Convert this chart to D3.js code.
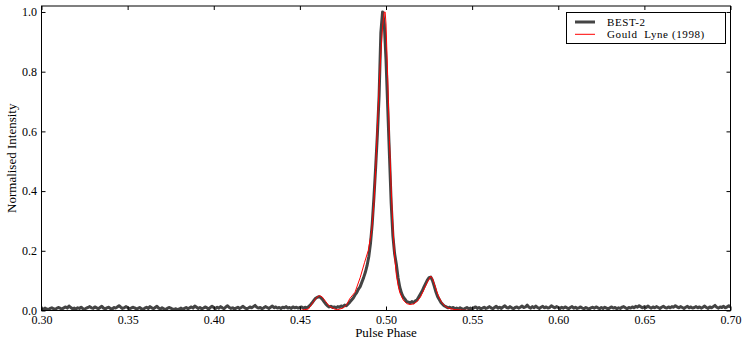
<!DOCTYPE html>
<html>
<head>
<meta charset="utf-8">
<script src="https://cdn.jsdelivr.net/npm/d3@7"></script>
<style>
  body { margin: 0; background: #fff; }
  svg text { font-family: "Liberation Serif", "DejaVu Serif", serif; fill: #000; }
</style>
</head>
<body>
<svg id="chart" width="748" height="343"></svg>
<script>
"use strict";

// BEST-2 profile, one value per 0.001 of phase, starting at 0.300
const best2Start = 0.300;
const best2Step = 0.001;
const best2 = [
  // 0.300 - 0.449 baseline
  0.006,0.004,0.008,0.005,0.003,0.007,0.009,0.006,0.004,0.008,0.010,0.007,0.005,0.009,0.012,0.008,0.015,0.010,0.006,0.008,
  0.005,0.009,0.007,0.011,0.006,0.004,0.008,0.010,0.013,0.009,0.007,0.012,0.009,0.006,0.010,0.014,0.008,0.005,0.009,0.011,
  0.007,0.004,0.010,0.008,0.012,0.016,0.011,0.007,0.009,0.013,0.010,0.006,0.008,0.011,0.009,0.005,0.007,0.010,0.006,0.004,
  0.008,0.011,0.007,0.013,0.009,0.006,0.010,0.014,0.008,0.005,0.009,0.006,0.003,0.007,0.010,0.008,0.005,0.004,0.006,0.003,
  0.005,0.008,0.004,0.007,0.010,0.006,0.009,0.012,0.008,0.015,0.011,0.007,0.010,0.006,0.008,0.012,0.009,0.005,0.010,0.014,
  0.010,0.007,0.011,0.008,0.013,0.009,0.006,0.012,0.016,0.010,0.007,0.009,0.005,0.008,0.011,0.007,0.010,0.014,0.009,0.006,
  0.008,0.012,0.009,0.013,0.017,0.011,0.008,0.010,0.006,0.009,0.013,0.010,0.007,0.011,0.015,0.009,0.012,0.008,0.010,0.007,
  0.011,0.009,0.013,0.008,0.010,0.007,0.012,0.009,0.011,0.008,
  // 0.450 - 0.540 pulse
  0.010,0.012,0.008,0.011,0.009,0.013,0.018,0.025,0.033,0.040,
  0.044,0.046,0.044,0.038,0.030,0.022,0.016,0.012,0.014,0.010,
  0.012,0.009,0.013,0.011,0.015,0.013,0.018,0.016,0.022,0.028,
  0.035,0.042,0.052,0.060,0.072,0.080,0.095,0.110,0.128,0.150,
  0.180,0.225,0.290,0.380,0.480,0.590,0.720,0.930,1.000,0.960,
  0.840,0.680,0.520,0.360,0.250,0.190,0.155,0.110,0.078,0.058,
  0.045,0.038,0.030,0.028,0.025,0.030,0.026,0.032,0.035,0.045,
  0.055,0.065,0.078,0.090,0.102,0.110,0.112,0.100,0.082,0.062,
  0.046,0.036,0.026,0.020,0.015,0.012,0.009,0.011,0.008,0.010,
  0.006,
  // 0.541 - 0.700 baseline
  0.008,0.005,0.009,0.006,0.004,0.007,0.010,0.006,0.008,0.005,0.009,0.012,0.007,0.010,0.006,0.008,0.011,0.007,0.009,0.013,
  0.009,0.006,0.010,0.014,0.008,0.011,0.007,0.012,0.016,0.010,0.008,0.013,0.009,0.006,0.010,0.012,0.008,0.011,0.015,0.010,
  0.012,0.018,0.011,0.008,0.013,0.009,0.015,0.010,0.007,0.011,0.014,0.009,0.012,0.008,0.010,0.016,0.012,0.009,0.013,0.010,
  0.007,0.011,0.008,0.012,0.009,0.006,0.010,0.013,0.008,0.011,0.007,0.009,0.012,0.008,0.006,0.010,0.007,0.005,0.009,0.011,
  0.008,0.012,0.009,0.006,0.010,0.007,0.011,0.008,0.005,0.009,0.012,0.008,0.010,0.006,0.009,0.007,0.011,0.013,0.009,0.006,
  0.010,0.008,0.012,0.009,0.014,0.011,0.016,0.012,0.009,0.013,0.010,0.015,0.011,0.008,0.012,0.009,0.013,0.010,0.007,0.011,
  0.014,0.010,0.008,0.012,0.009,0.013,0.011,0.016,0.012,0.009,0.013,0.010,0.007,0.011,0.014,0.009,0.012,0.008,0.010,0.013,
  0.009,0.012,0.008,0.011,0.015,0.010,0.007,0.012,0.009,0.013,0.017,0.011,0.008,0.012,0.010,0.014,0.009,0.012,0.016,0.011
];

// Gould & Lyne (1998) template
const gouldPhase = [
  0.450,0.455,0.458,0.460,0.4615,0.463,0.465,0.467,0.470,0.472,
  0.475,0.477,0.479,0.482,0.485,0.4875,0.4897,0.4917,0.493,0.494,
  0.495,0.496,0.497,0.498,0.499,0.4995,0.500,0.501,0.502,0.503,
  0.504,0.505,0.506,0.507,0.508,0.510,0.512,0.514,0.516,0.518,
  0.520,0.522,0.524,0.526,0.527,0.528,0.530,0.532,0.534,0.536,
  0.540,0.545,0.550
];
const gouldValue = [
  0.000,0.005,0.030,0.045,0.050,0.045,0.030,0.015,0.005,0.003,
  0.008,0.018,0.040,0.061,0.110,0.160,0.201,0.268,0.360,0.470,
  0.620,0.750,0.860,0.950,1.000,1.000,0.960,0.780,0.570,0.410,
  0.280,0.180,0.120,0.085,0.060,0.035,0.023,0.020,0.022,0.030,
  0.045,0.070,0.095,0.115,0.108,0.090,0.055,0.030,0.016,0.008,
  0.003,0.001,0.000
];

const xTicks = [0.30,0.35,0.40,0.45,0.50,0.55,0.60,0.65,0.70];
const yTicks = [0.0,0.2,0.4,0.6,0.8,1.0];

const seriesNames = ["BEST-2", "Gould\u00a0 Lyne (1998)"];

const svg = d3.select("#chart");
const plot = {left: 41.5, right: 730.5, top: 6, bottom: 310.5};

const x = d3.scaleLinear().domain([0.30, 0.70]).range([plot.left, plot.right]);
const y = d3.scaleLinear().domain([0, 1.02]).range([plot.bottom, plot.top]);

svg.append("defs").append("clipPath").attr("id", "clip")
  .append("rect")
    .attr("x", plot.left).attr("y", plot.top)
    .attr("width", plot.right - plot.left)
    .attr("height", plot.bottom - plot.top);

const best2Data = best2.map((v, i) => [best2Start + i * best2Step, v]);
const gouldData = gouldPhase.map((p, i) => [p, gouldValue[i]]);

const line = d3.line().x(d => x(d[0])).y(d => y(d[1]));

const lines = svg.append("g").attr("clip-path", "url(#clip)");
lines.append("path")
  .datum(best2Data)
  .attr("d", line)
  .attr("fill", "none")
  .attr("stroke", "#444444")
  .attr("stroke-width", 3)
  .attr("stroke-linejoin", "round");
lines.append("path")
  .datum(gouldData)
  .attr("d", line)
  .attr("fill", "none")
  .attr("stroke", "#ff0000")
  .attr("stroke-width", 1);

// axes, ticks pointing inward on all four sides
const fmt2 = d3.format(".2f");
const fmt1 = d3.format(".1f");

svg.append("g")
  .attr("transform", "translate(0," + plot.bottom + ")")
  .call(d3.axisBottom(x).tickValues(xTicks).tickFormat(fmt2).tickSizeInner(-4).tickSizeOuter(0).tickPadding(4.5))
  .call(g => g.select(".domain").remove())
  .call(g => g.selectAll("text").attr("font-size", 12));
svg.append("g")
  .attr("transform", "translate(0," + plot.top + ")")
  .call(d3.axisTop(x).tickValues(xTicks).tickFormat("").tickSizeInner(-4).tickSizeOuter(0))
  .call(g => g.select(".domain").remove());
svg.append("g")
  .attr("transform", "translate(" + plot.left + ",0)")
  .call(d3.axisLeft(y).tickValues(yTicks).tickFormat(fmt1).tickSizeInner(-4).tickSizeOuter(0).tickPadding(4.5))
  .call(g => g.select(".domain").remove())
  .call(g => g.selectAll("text").attr("font-size", 12));
svg.append("g")
  .attr("transform", "translate(" + plot.right + ",0)")
  .call(d3.axisRight(y).tickValues(yTicks).tickFormat("").tickSizeInner(-4).tickSizeOuter(0))
  .call(g => g.select(".domain").remove());

// frame
svg.append("rect")
  .attr("x", plot.left).attr("y", plot.top)
  .attr("width", plot.right - plot.left)
  .attr("height", plot.bottom - plot.top)
  .attr("fill", "none")
  .attr("stroke", "#000")
  .attr("stroke-width", 1);

// axis titles
svg.append("text")
  .attr("x", (plot.left + plot.right) / 2)
  .attr("y", 337)
  .attr("text-anchor", "middle")
  .attr("font-size", 13)
  .text("Pulse Phase");
svg.append("text")
  .attr("transform", "translate(16," + ((plot.top + plot.bottom) / 2) + ") rotate(-90)")
  .attr("text-anchor", "middle")
  .attr("font-size", 13)
  .text("Normalised Intensity");

// legend
const legend = svg.append("g");
legend.append("rect")
  .attr("x", 566.5).attr("y", 12.5)
  .attr("width", 159).attr("height", 31)
  .attr("fill", "#fff")
  .attr("stroke", "#000");
const legendStyles = [{color: "#444444", width: 3}, {color: "#ff0000", width: 1}];
seriesNames.forEach((name, i) => {
  const ly = 22 + i * 12.3;
  legend.append("line")
    .attr("x1", 575).attr("x2", 595)
    .attr("y1", ly).attr("y2", ly)
    .attr("stroke", legendStyles[i].color)
    .attr("stroke-width", legendStyles[i].width);
  legend.append("text")
    .attr("x", 607).attr("y", ly + 3.8)
    .attr("font-size", 11)
    .attr("letter-spacing", 0.6)
    .text(name);
});
</script>
</body>
</html>
